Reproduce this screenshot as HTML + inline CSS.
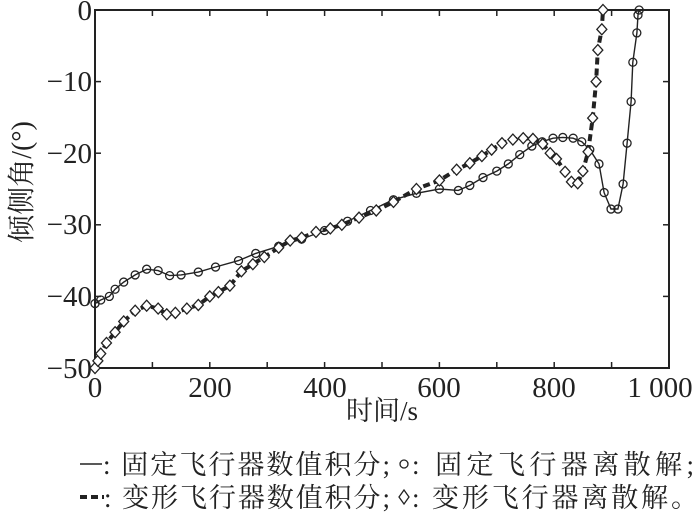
<!DOCTYPE html>
<html><head><meta charset="utf-8"><style>
body{margin:0;background:#fff;}
svg{display:block;}
text{font-family:"Liberation Serif","Noto Serif CJK SC",serif;fill:#222;}
</style></head><body>
<svg id="s" width="700" height="513" viewBox="0 0 700 513" xmlns="http://www.w3.org/2000/svg">
<rect x="95" y="10" width="574" height="358" fill="none" stroke="#222" stroke-width="2"/>
<g id="ticks" stroke="#222" stroke-width="1.5"></g>
<g font-size="29" text-anchor="end">
<text x="92" y="20">0</text>
<text x="92" y="91">−10</text>
<text x="92" y="163">−20</text>
<text x="92" y="234">−30</text>
<text x="92" y="306">−40</text>
<text x="92" y="378">−50</text>
</g>
<g font-size="29" text-anchor="middle">
<text x="95" y="397">0</text>
<text x="210" y="397">200</text>
<text x="325" y="397">400</text>
<text x="439" y="397">600</text>
<text x="554" y="397">800</text>
<text x="660" y="397">1 000</text>
</g>
<text x="382" y="420" font-size="27" text-anchor="middle">时间/s</text>
<text transform="translate(31,182) rotate(-90)" font-size="28" text-anchor="middle">倾侧角/(°)</text>
<g id="plot"></g>
<g font-size="27">
<line x1="80" y1="464" x2="102" y2="464" stroke="#222" stroke-width="1.5"/>
<text x="103" y="474" textLength="287" lengthAdjust="spacing">: 固定飞行器数值积分;</text>
<circle cx="404" cy="464" r="4" fill="none" stroke="#222" stroke-width="1.3"/>
<text x="412" y="474" textLength="282" lengthAdjust="spacing">: 固定飞行器离散解;</text>
<line x1="80" y1="497" x2="104" y2="497" stroke="#222" stroke-width="4" stroke-dasharray="7,4"/>
<text x="104" y="507" textLength="286" lengthAdjust="spacing">: 变形飞行器数值积分;</text>
<path d="M404 490 L409 497 L404 504 L399 497 Z" fill="none" stroke="#222" stroke-width="1.3"/>
<text x="412" y="507" textLength="286" lengthAdjust="spacing">: 变形飞行器离散解。</text>
</g>
</svg>
<script>
var X=t=>95+0.574*t, Y=v=>10-7.16*v;
var ns="http://www.w3.org/2000/svg";
var tk=document.getElementById('ticks'),pl=document.getElementById('plot');
function el(n,a,p){var e=document.createElementNS(ns,n);for(var k in a)e.setAttribute(k,a[k]);(p||pl).appendChild(e);return e;}
for(var t=100;t<1000;t+=100){el('line',{x1:X(t),y1:368,x2:X(t),y2:362},tk);el('line',{x1:X(t),y1:10,x2:X(t),y2:16},tk);}
for(var v=-10;v>-50;v-=10){el('line',{x1:95,y1:Y(v),x2:101,y2:Y(v)},tk);el('line',{x1:669,y1:Y(v),x2:663,y2:Y(v)},tk);}
var A=[[0,-41],[10,-40.5],[25,-40],[35,-39],[50,-38],[70,-37],[90,-36.2],[110,-36.4],[130,-37.1],[150,-37],[180,-36.6],[210,-35.9],[250,-35],[280,-34],[320,-33],[360,-32],[400,-30.8],[440,-29.5],[480,-28],[520,-26.5],[560,-25.6],[600,-25],[633,-25.2],[653,-24.5],[676,-23.4],[700,-22.5],[720,-21.5],[740,-20.2],[761,-19],[779,-18.4],[798,-17.9],[815,-17.8],[833,-17.9],[848,-18.4],[862,-19.5],[878,-21.5],[887,-25.5],[899,-27.8],[911,-27.8],[920,-24.3],[927,-18.6],[934,-12.8],[937,-7.3],[944,-3.2],[946,-0.7],[948,0]];
var B=[[0,-50],[5,-49],[10,-48],[20,-46.5],[35,-45],[50,-43.5],[70,-42],[90,-41.3],[110,-41.7],[125,-42.5],[140,-42.3],[160,-41.7],[180,-41.2],[200,-40],[215,-39.4],[235,-38.5],[255,-36.5],[275,-35.5],[295,-34.5],[320,-33.2],[340,-32.2],[360,-31.8],[385,-31],[410,-30.5],[430,-30],[460,-29],[490,-28],[520,-26.8],[560,-25],[600,-23.8],[630,-22.3],[653,-21.4],[674,-20.4],[691,-19.5],[709,-18.6],[728,-18.1],[746,-17.9],[763,-18],[780,-18.7],[793,-20],[804,-20.8],[819,-22.6],[830,-24],[841,-24.2],[850,-22.5],[859,-19.8],[867,-15.1],[873,-10],[876,-5.6],[883,-2.7],[885,0]];
function path(d){return d.map((p,i)=>(i?'L':'M')+X(p[0]).toFixed(1)+' '+Y(p[1]).toFixed(1)).join(' ');}
el('path',{d:path(A),fill:'none',stroke:'#222','stroke-width':1.4});
el('path',{d:path(B),fill:'none',stroke:'#222','stroke-width':4,'stroke-dasharray':'7,4'});
A.forEach(p=>el('circle',{cx:X(p[0]),cy:Y(p[1]),r:4,fill:'none',stroke:'#222','stroke-width':1.3}));
B.forEach(p=>{var x=X(p[0]),y=Y(p[1]);el('path',{d:`M${x} ${y-5.5}L${x+5} ${y}L${x} ${y+5.5}L${x-5} ${y}Z`,fill:'#fff',stroke:'#222','stroke-width':1.3});});
</script>
</body></html>
